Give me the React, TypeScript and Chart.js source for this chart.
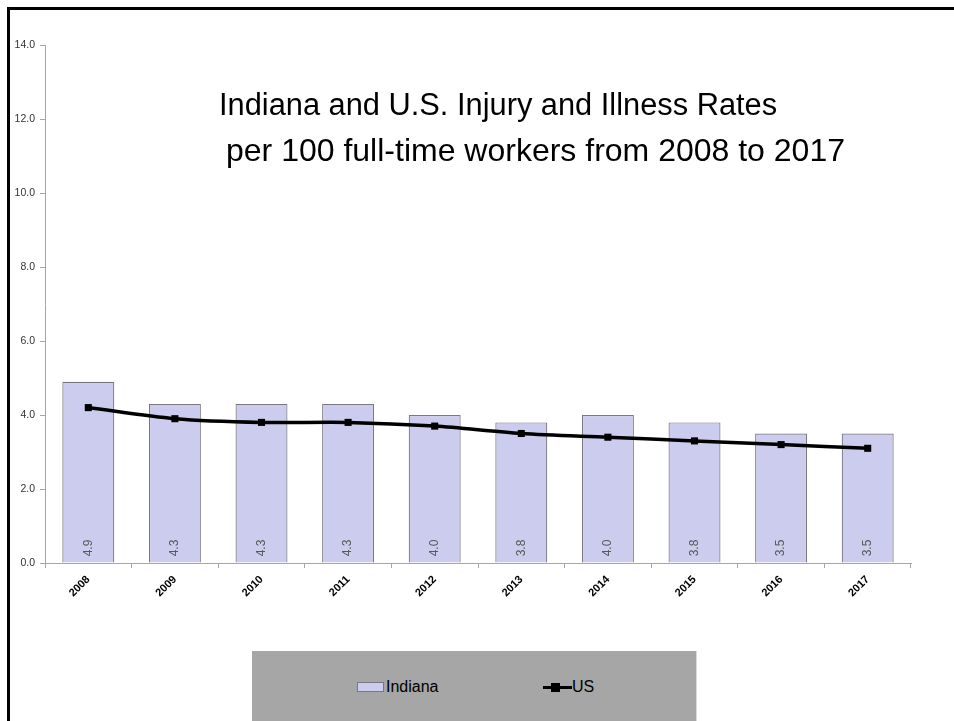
import React, { useEffect, useRef } from "react";
import { Chart, registerables } from "chart.js";

Chart.register(...registerables);

const years = ["2008", "2009", "2010", "2011", "2012", "2013", "2014", "2015", "2016", "2017"];
const indianaRates = [4.9, 4.3, 4.3, 4.3, 4.0, 3.8, 4.0, 3.8, 3.5, 3.5];
const usRates = [4.2, 3.9, 3.8, 3.8, 3.7, 3.5, 3.4, 3.3, 3.2, 3.1];
const titleLines = ["Indiana and U.S. Injury and Illness Rates", "per 100 full-time workers from 2008 to 2017"];

const FONT = "'Liberation Sans', Arial, sans-serif";
const BAR_FILL = "rgb(204,204,238)";
const BAR_EDGE = "rgb(120,120,130)";

const barLabelPlugin = {
  id: "barLabels",
  afterDatasetsDraw(chart: any) {
    const meta = chart.getDatasetMeta(0);
    const ctx = chart.ctx;
    const bottom = chart.scales.y.getPixelForValue(0);
    ctx.save();
    ctx.font = `12px ${FONT}`;
    ctx.fillStyle = "#595959";
    ctx.textAlign = "center";
    ctx.textBaseline = "middle";
    meta.data.forEach((el: any, i: number) => {
      ctx.save();
      ctx.translate(el.x, bottom - 15);
      ctx.rotate(-Math.PI / 2);
      ctx.fillText(indianaRates[i].toFixed(1), 0, 0);
      ctx.restore();
    });
    ctx.restore();
  },
};

export default function App() {
  const ref = useRef<HTMLCanvasElement>(null);
  useEffect(() => {
    if (!ref.current) return;
    const chart = new Chart(ref.current, {
      type: "bar",
      data: {
        labels: years,
        datasets: [
          {
            type: "bar",
            label: "Indiana",
            data: indianaRates,
            backgroundColor: BAR_FILL,
            borderColor: BAR_EDGE,
            borderWidth: 1.2,
            categoryPercentage: 1,
            barPercentage: 0.6,
            order: 2,
          },
          {
            type: "line",
            label: "US",
            data: usRates,
            borderColor: "#000",
            backgroundColor: "#000",
            borderWidth: 3.5,
            tension: 0.3,
            pointStyle: "rect",
            pointRadius: 5,
            pointBorderWidth: 0,
            order: 1,
          } as any,
        ],
      },
      options: {
        animation: false,
        responsive: true,
        maintainAspectRatio: false,
        layout: { padding: { left: 0, top: 45, right: 43, bottom: 0 } },
        plugins: { legend: { display: false }, tooltip: { enabled: false }, title: { display: false } },
        scales: {
          x: {
            offset: true,
            grid: { display: true, drawOnChartArea: false, drawTicks: true, tickLength: 5, color: "#a6a6a6", offset: true },
            border: { color: "#a6a6a6" },
            ticks: { minRotation: 45, maxRotation: 45, color: "#000", font: { family: FONT, size: 11, weight: "bold" }, padding: 5 },
            afterFit: (s: any) => { s.height = 158; },
          },
          y: {
            min: 0,
            max: 14,
            grid: { display: true, drawOnChartArea: false, drawTicks: true, tickLength: 5, color: "#a6a6a6" },
            border: { color: "#a6a6a6" },
            ticks: {
              stepSize: 2,
              color: "#333",
              font: { family: FONT, size: 10.5 },
              padding: 5,
              callback: (v: any) => Number(v).toFixed(1),
            },
            afterFit: (s: any) => { s.width = 45; },
          },
        },
      },
      plugins: [barLabelPlugin],
    });
    return () => chart.destroy();
  }, []);

  return (
    <div style={{ position: "fixed", left: 0, top: 0, width: 954, height: 721, background: "#fff", overflow: "hidden", fontFamily: FONT }}>
      <canvas ref={ref} style={{ position: "absolute", left: 0, top: 0, width: 954, height: 721 }} />
      <div style={{ position: "absolute", left: 7, top: 7, width: 947, height: 3, background: "#000" }} />
      <div style={{ position: "absolute", left: 7, top: 7, width: 3, height: 714, background: "#000" }} />
      <div style={{ position: "absolute", left: 219, top: 87, fontSize: 30.8, lineHeight: "36px", color: "#000", whiteSpace: "pre" }}>
        {titleLines[0]}
      </div>
      <div style={{ position: "absolute", left: 226, top: 131, fontSize: 32, lineHeight: "38px", color: "#000", whiteSpace: "pre" }}>
        {titleLines[1]}
      </div>
      <div style={{ position: "absolute", left: 252, top: 651, width: 444, height: 70, background: "#a6a6a6", borderRight: "1px solid #d9d9d9" }}>
        <div style={{ position: "absolute", left: 105, top: 31, width: 25, height: 8, background: BAR_FILL, border: `1px solid ${BAR_EDGE}` }} />
        <div style={{ position: "absolute", left: 134, top: 26, fontSize: 16, lineHeight: "20px", color: "#000" }}>Indiana</div>
        <div style={{ position: "absolute", left: 291, top: 35, width: 29, height: 3, background: "#000" }} />
        <div style={{ position: "absolute", left: 299, top: 32, width: 9, height: 9, background: "#000" }} />
        <div style={{ position: "absolute", left: 320, top: 26, fontSize: 16, lineHeight: "20px", color: "#000" }}>US</div>
      </div>
    </div>
  );
}
